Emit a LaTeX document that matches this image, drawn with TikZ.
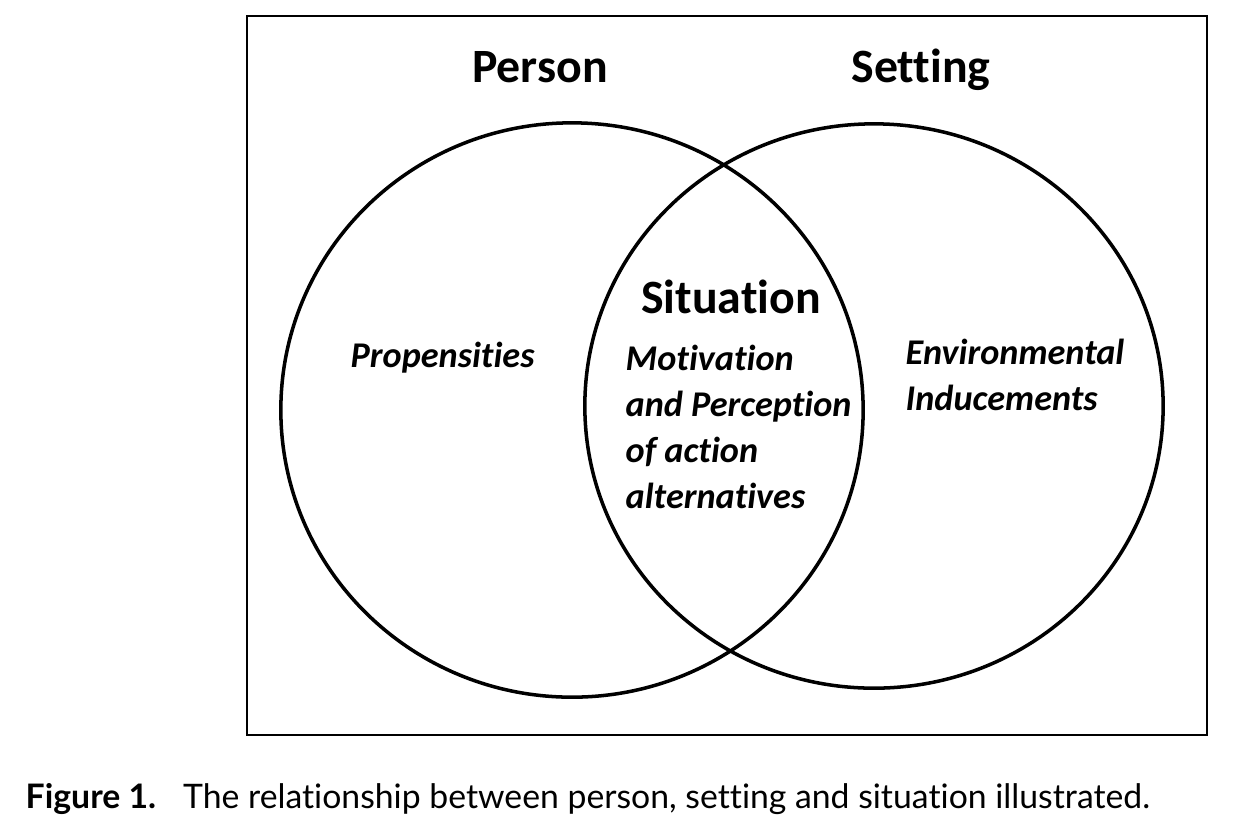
\documentclass[tikz,border=0pt]{standalone}
\usepackage{fontspec}
\setmainfont[Ligatures={NoCommon}]{Carlito}
\newfontfamily\capfont[Ligatures={NoCommon}]{Lato}
\usetikzlibrary{positioning}

\begin{document}
\begin{tikzpicture}[x=0.01cm, y=-0.01cm,
  ring/.style={draw, line width=1pt},
  heading/.style={font=\fontsize{13.6}{16}\selectfont\bfseries, inner sep=0pt, anchor=base},
  remark/.style={font=\fontsize{10.3}{13}\selectfont\bfseries\itshape, inner sep=0pt, align=left, anchor=base west}]
\useasboundingbox (0,0) rectangle (1247,829);
% frame and the two circles
\draw[line width=0.7pt] (247,16) rectangle (1207,735);
\draw[ring] (572,410) ellipse [x radius=2.91cm, y radius=2.87cm];
\draw[ring] (874,406) ellipse [x radius=2.89cm, y radius=2.82cm];
% headings
\node[heading] (person) at (540,82) {Person};
\node[heading] (setting) at (921,82) {Setting};
\node[heading] (situation) at (731,313) {Situation};
% texts in the regions (anchored at the last line)
\node[remark] (prop) at (350,367) {Propensities};
\node[remark] (motiv) at (625,508) {Motivation\\and Perception\\of action\\alternatives};
\node[remark] (envir) at (905,410) {Environmental\\Inducements};
% caption
\node[font=\capfont\fontsize{9.6}{11}\selectfont, inner sep=0pt, anchor=base west] (caption) at (25,808)
  {\textbf{Figure 1.}\hspace{0.8em}The relationship between person, setting and situation illustrated.};
\end{tikzpicture}
\end{document}
